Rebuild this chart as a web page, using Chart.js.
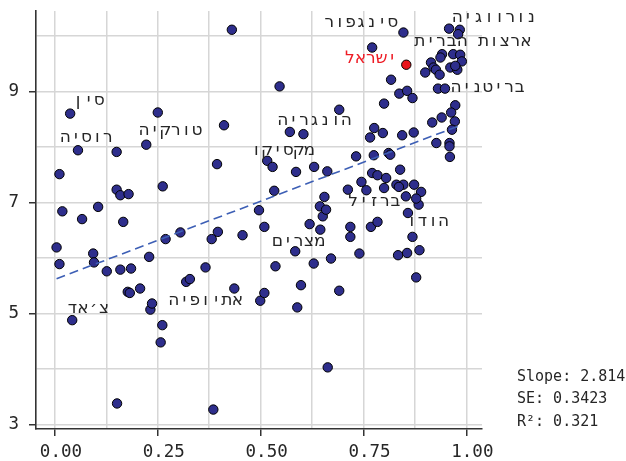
<!DOCTYPE html>
<html><head><meta charset="utf-8">
<script src="https://cdn.jsdelivr.net/npm/chart.js@4/dist/chart.umd.min.js"></script>
<style>html,body{margin:0;padding:0;background:#fff}#wrap{width:626px;height:461px}</style>
</head><body><div id="wrap"><canvas id="c" width="626" height="461"></canvas></div>
<script>
const xValues = [0.430,0.546,0.037,0.250,0.411,0.571,0.604,0.056,0.150,0.222,0.394,0.516,0.529,0.586,0.630,0.011,0.262,0.150,0.159,0.179,0.533,0.018,0.105,0.066,0.166,0.496,0.509,0.619,0.004,0.011,0.093,0.095,0.126,0.159,0.185,0.177,0.182,0.207,0.229,0.232,0.236,0.269,0.305,0.261,0.257,0.042,0.151,0.385,0.319,0.328,0.366,0.381,0.396,0.456,0.436,0.499,0.509,0.536,0.584,0.598,0.589,0.629,0.663,0.691,0.671,0.645,0.651,0.644,0.659,0.718,0.718,0.740,0.768,0.784,0.858,0.884,0.869,0.834,0.856,0.886,0.878,0.732,0.775,0.662,0.771,0.784,0.745,0.757,0.712,0.655,0.927,0.959,0.959,0.960,0.811,0.815,0.839,0.805,0.800,0.830,0.847,0.836,0.873,0.890,0.853,0.878,0.847,0.771,0.817,0.837,0.856,0.869,0.800,0.958,0.984,0.980,0.941,0.937,0.968,0.985,0.989,0.914,0.920,0.900,0.926,0.935,0.961,0.978,0.973,0.931,0.948,0.973,0.963,0.972,0.965,0.940,0.917,0.776,0.797,0.766,0.844,0.872,0.691];
const yValues = [10.11,9.09,8.60,8.62,8.39,8.27,8.23,7.94,7.91,8.04,7.69,7.75,7.64,7.55,7.64,7.51,7.29,7.23,7.13,7.15,7.21,6.84,6.92,6.70,6.65,6.86,6.56,6.61,6.19,5.89,6.08,5.92,5.76,5.79,5.81,5.39,5.37,5.45,6.02,5.07,5.18,6.34,6.46,4.79,4.48,4.88,3.38,3.27,5.57,5.62,5.83,6.34,6.47,6.41,5.45,5.23,5.37,5.85,6.12,5.51,5.11,5.90,4.03,5.41,5.99,6.51,6.75,6.93,6.87,6.56,6.38,6.08,6.56,6.65,6.81,6.96,6.38,6.05,6.09,6.14,5.65,7.83,7.85,7.56,7.53,7.49,7.37,7.22,7.23,7.10,8.07,8.07,8.01,7.82,7.89,7.86,7.59,7.44,7.26,7.32,7.32,7.28,7.32,7.19,7.11,7.07,10.06,9.79,9.21,8.96,9.01,8.88,8.78,10.13,10.11,10.03,9.67,9.61,9.67,9.66,9.54,9.52,9.43,9.34,9.39,9.30,9.43,9.39,9.46,9.05,9.05,8.75,8.62,8.46,8.31,8.53,8.44,8.34,8.25,8.17,8.21,8.26,8.67];
const israelX = [0.854];
const israelY = [9.48];
const trendX = [0.004, 0.989];
const trendY = [5.626, 8.398];
const xTicks = [0, 0.125, 0.25, 0.375, 0.5, 0.625, 0.75, 0.875, 1];
const xMajor = [0, 0.25, 0.5, 0.75, 1];
const yTicks = [3, 4, 5, 6, 7, 8, 9, 10];
const yMajor = [3, 5, 7, 9];
const labelNames = ['נורווגיה','ארצות הברית','סינגפור','ישראל','בריטניה','הונגריה','מקסיקו','טורקיה','סין','רוסיה','ברזיל','הודו','מצרים','אתיופיה','צ׳אד'];
const labelX = [1.068,1.016,0.744,0.768,1.052,0.631,0.554,0.281,0.082,0.077,0.776,0.906,0.592,0.366,0.081];
const labelY = [10.33,9.89,10.24,9.59,9.06,8.48,7.94,8.30,8.84,8.17,7.02,6.66,6.29,5.24,5.09];
const statLines = ['Slope: 2.814', 'SE: 0.3423', 'R²: 0.321'];

const pts = xValues.map((v, i) => ({x: v, y: yValues[i]}));
const isr = israelX.map((v, i) => ({x: v, y: israelY[i]}));
const trend = trendX.map((v, i) => ({x: v, y: trendY[i]}));

const MONO = '"DejaVu Sans Mono"';
// Hebrew text set in fixed-width cells (monospace look), right-to-left
function drawRtlMono(ctx, text, cx, cy, adv) {
  const chars = Array.from(text).reverse();
  const x0 = cx - chars.length * adv / 2 + adv / 2;
  chars.forEach((ch, k) => ctx.fillText(ch, x0 + k * adv, cy));
}
const annot = {
  id: 'annot',
  afterDatasetsDraw(chart) {
    const {ctx, chartArea, scales: {x, y}} = chart;
    ctx.save();
    ctx.font = '17px "DejaVu Sans"';
    ctx.textAlign = 'center';
    ctx.textBaseline = 'middle';
    labelNames.forEach((n, i) => {
      ctx.fillStyle = n === 'ישראל' ? '#ee1c25' : '#262626';
      drawRtlMono(ctx, n, x.getPixelForValue(labelX[i]), y.getPixelForValue(labelY[i]), 10.6);
    });
    ctx.font = '15px ' + MONO;
    ctx.textAlign = 'left';
    ctx.fillStyle = '#262626';
    const offs = [-52, -30, -7];
    statLines.forEach((t, i) => ctx.fillText(t, chartArea.right + 35, chartArea.bottom + offs[i]));
    ctx.restore();
  }
};

const gridCol = '#d6d6d6';
new Chart(document.getElementById('c'), {
  type: 'scatter',
  data: {
    datasets: [
      {data: pts, backgroundColor: '#2e2e8c', borderColor: '#000', borderWidth: 1, pointRadius: 4.7, order: 2},
      {data: isr, backgroundColor: '#e8141b', borderColor: '#000', borderWidth: 1, pointRadius: 4.7, order: 1},
      {type: 'line', data: trend, borderColor: '#3d5fb5', borderWidth: 1.6, borderDash: [9, 5], pointRadius: 0, fill: false, order: 0}
    ]
  },
  options: {
    responsive: false,
    animation: false,
    devicePixelRatio: 1,
    layout: {padding: {top: 10, right: 144, left: 0, bottom: 0}},
    plugins: {legend: {display: false}, tooltip: {enabled: false}},
    scales: {
      x: {
        type: 'linear', min: -0.046, max: 1.038,
        afterBuildTicks: s => { s.ticks = xTicks.map(v => ({value: v})); },
        afterFit: s => { s.height = 32; },
        grid: {color: gridCol, lineWidth: 1.5, tickLength: 7,
               tickColor: c => (c.tick && xMajor.includes(c.tick.value)) ? '#333' : 'rgba(0,0,0,0)', tickWidth: 1.5},
        border: {display: true, color: '#333', width: 1.6},
        ticks: {color: '#262626', font: {family: 'DejaVu Sans Mono', size: 17.5}, padding: 6, labelOffset: 6, maxRotation: 0, autoSkip: false,
                callback: v => xMajor.includes(v) ? v.toFixed(2) : ''}
      },
      y: {
        type: 'linear', min: 2.92, max: 10.45,
        afterBuildTicks: s => { s.ticks = yTicks.map(v => ({value: v})); },
        afterFit: s => { s.width = 36; },
        grid: {color: gridCol, lineWidth: 1.5, tickLength: 7,
               tickColor: c => (c.tick && yMajor.includes(c.tick.value)) ? '#333' : 'rgba(0,0,0,0)', tickWidth: 1.5},
        border: {display: true, color: '#333', width: 1.6},
        ticks: {color: '#262626', font: {family: 'DejaVu Sans Mono', size: 17.5, lineHeight: 0.1}, padding: 10, autoSkip: false,
                callback: v => yMajor.includes(v) ? String(v) : ''}
      }
    }
  },
  plugins: [annot]
});
</script></body></html>
